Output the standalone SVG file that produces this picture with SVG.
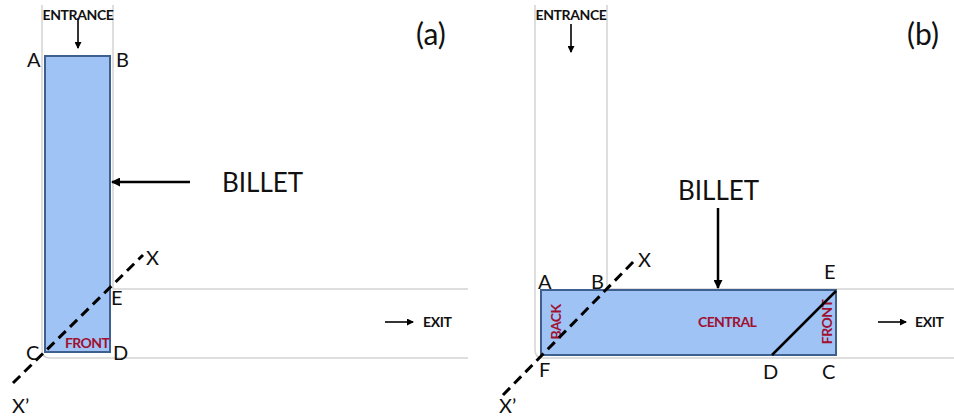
<svg xmlns="http://www.w3.org/2000/svg" width="954" height="416" viewBox="0 0 954 416">
<defs>
<marker id="ah" markerWidth="9" markerHeight="9" refX="8" refY="4.5" orient="auto" markerUnits="userSpaceOnUse">
<path d="M0,0 L9,4.5 L0,9 Z" fill="#000"/>
</marker>
<marker id="ahs" markerWidth="7" markerHeight="7" refX="6" refY="3.5" orient="auto" markerUnits="userSpaceOnUse">
<path d="M0,0 L7,3.5 L0,7 Z" fill="#000"/>
</marker>
</defs>
<style>
.wall{fill:none;stroke:#d4d4d4;stroke-width:1.5}
.billet{fill:#9fc3f5;stroke:#3f5f8f;stroke-width:2}
.lbl{font-family:Lato,"Open Sans","Liberation Sans",sans-serif;font-size:20px;fill:#111}
.big{font-family:Lato,"Open Sans","Liberation Sans",sans-serif;font-size:26px;fill:#111}
.title{font-family:Lato,"Open Sans","Liberation Sans",sans-serif;font-size:30px;fill:#111}
.small{font-family:Lato,"Open Sans","Liberation Sans",sans-serif;font-size:14px;font-weight:bold;fill:#111;letter-spacing:-0.4px}
.red{font-family:Lato,"Open Sans","Liberation Sans",sans-serif;font-size:14px;font-weight:bold;fill:#a01030;letter-spacing:-0.6px}
.arr{stroke:#000;stroke-width:2.5;fill:none}
.arrs{stroke:#000;stroke-width:1.6;fill:none}
.dash{stroke:#000;stroke-width:3;stroke-dasharray:10,6;fill:none}
</style>

<g id="panel-a-walls">
<path class="wall" d="M42,5 V350 Q42,358 50,358 H468"/>
<path class="wall" d="M113,5 V289 H468"/>
</g>
<g id="panel-b-walls">
<path class="wall" d="M535,5 V350 Q535,358 543,358 H954"/>
<path class="wall" d="M607,5 V289 H954"/>
</g>

<g id="billet-a">
<rect class="billet" x="45" y="56" width="65" height="296"/>
<text class="red" x="65" y="348">FRONT</text>
</g>

<g id="billet-b">
<rect class="billet" x="541" y="290" width="295" height="65"/>
<text class="red" x="698" y="327">CENTRAL</text>
<text class="red" transform="translate(561,322) rotate(-90)" text-anchor="middle">BACK</text>
<text class="red" transform="translate(832,322) rotate(-90)" text-anchor="middle">FRONT</text>
</g>

<g id="connectors">
<line class="arrs" x1="78" y1="18" x2="78" y2="48" marker-end="url(#ahs)"/>
<line class="arrs" x1="571" y1="24" x2="571" y2="52" marker-end="url(#ahs)"/>
<line class="arr" x1="190" y1="182" x2="112" y2="182" marker-end="url(#ah)"/>
<line class="arr" x1="718" y1="208" x2="718" y2="288" marker-end="url(#ah)"/>
<line class="arrs" x1="385" y1="322" x2="413" y2="322" marker-end="url(#ahs)"/>
<line class="arrs" x1="878" y1="322" x2="906" y2="322" marker-end="url(#ahs)"/>
<line class="dash" x1="13" y1="383" x2="143" y2="255"/>
<line class="dash" x1="503" y1="395" x2="637" y2="258"/>
<line stroke="#000" stroke-width="2.5" x1="772" y1="355" x2="836" y2="291"/>
</g>

<g id="labels-a">
<text class="small" x="78" y="20" text-anchor="middle">ENTRANCE</text>
<text class="lbl" x="27" y="67">A</text>
<text class="lbl" x="116" y="67">B</text>
<text class="lbl" x="111" y="305">E</text>
<text class="lbl" x="26" y="360">C</text>
<text class="lbl" x="113" y="360">D</text>
<text class="lbl" x="146" y="265" font-size="22">X</text>
<text class="lbl" x="12" y="413" font-size="22">X’</text>
<text class="big" x="222" y="192">BILLET</text>
<text class="small" x="423" y="327">EXIT</text>
<text class="title" x="416" y="45">(a)</text>
</g>

<g id="labels-b">
<text class="small" x="571" y="20" text-anchor="middle">ENTRANCE</text>
<text class="lbl" x="538" y="289">A</text>
<text class="lbl" x="591" y="289">B</text>
<text class="lbl" x="824" y="279">E</text>
<text class="lbl" x="539" y="377">F</text>
<text class="lbl" x="763" y="379">D</text>
<text class="lbl" x="822" y="379">C</text>
<text class="lbl" x="638" y="267" font-size="22">X</text>
<text class="lbl" x="499" y="413" font-size="22">X’</text>
<text class="big" x="678" y="200">BILLET</text>
<text class="small" x="915" y="327">EXIT</text>
<text class="title" x="907" y="45">(b)</text>
</g>
</svg>
